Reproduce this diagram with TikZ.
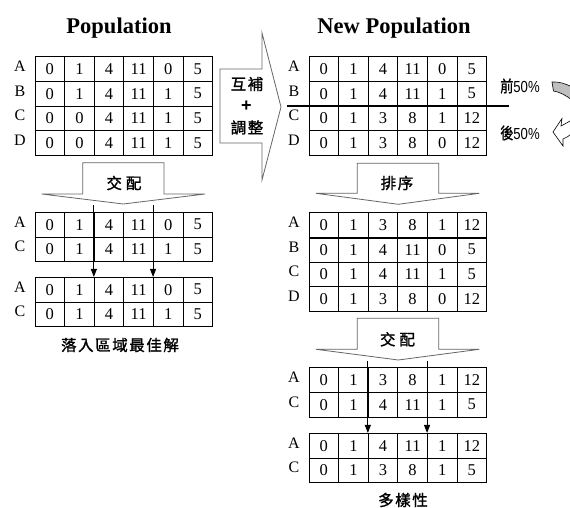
\documentclass[tikz,border=0pt]{standalone}
\usepackage{fontspec}
\setmainfont{Liberation Serif}
\newfontfamily\cjk{Noto Sans CJK TC}[LetterSpace=10,FakeBold=1.4]
\newfontfamily\sansn{Liberation Sans}
\usetikzlibrary{arrows.meta}
\newcommand\gatab[5]{%
  \foreach \rr [count=\i] in {#5} {
    \foreach \vv [count=\j] in \rr {
      \node[cell] (#1-\i-\j) at ({#2+(\j-0.5)*29.6},{#3+(\i-0.5)*24.6}) {\vv};
    }
  }
  \foreach \ll [count=\i] in {#4} {
    \node[rowlab] (#1-l\i) at ({#2-15},{#3+(\i-0.5)*24.6-2.5}) {\ll};
  }
}
\begin{document}
\begin{tikzpicture}[x=1pt,y=-1pt,
  cell/.style={draw, line width=0.7pt, minimum width=29.6pt, minimum height=24.6pt,
    inner sep=0pt, font=\fontsize{16.5}{16.5}\selectfont},
  rowlab/.style={font=\fontsize{16}{16}\selectfont, inner sep=0pt},
  title/.style={font=\fontsize{22.5}{24}\selectfont\bfseries, inner sep=0pt, anchor=base},
  cjklab/.style={font=\cjk\fontsize{15.5}{15.5}\selectfont, inner sep=0pt},
  chev/.style={draw=black!60, line width=0.8pt, fill=white},
  xarrow/.style={line width=1pt, -{Triangle[length=8pt,width=6pt]}},
  divider/.style={line width=1.7pt},
  pct/.style={inner sep=0pt, font=\fontsize{16}{16}\selectfont}]
\useasboundingbox (0,0) rectangle (570,508);
\fill[white] (0,0) rectangle (570,508);

% titles
\node[title] (t1) at (119,33.5) {Population};
\node[title] (t2) at (394,33.5) {New Population};

% tables
\gatab{P}{35}{56.7}{A,B,C,D}{{0,1,4,11,0,5},{0,1,4,11,1,5},{0,0,4,11,1,5},{0,0,4,11,1,5}}
\gatab{NP}{309}{56.7}{A,B,C,D}{{0,1,4,11,0,5},{0,1,4,11,1,5},{0,1,3,8,1,12},{0,1,3,8,0,12}}
\gatab{L1}{35}{212.3}{A,C}{{0,1,4,11,0,5},{0,1,4,11,1,5}}
\gatab{L2}{35}{277.3}{A,C}{{0,1,4,11,0,5},{0,1,4,11,1,5}}
\gatab{S}{309}{212.7}{A,B,C,D}{{0,1,3,8,1,12},{0,1,4,11,0,5},{0,1,4,11,1,5},{0,1,3,8,0,12}}
\gatab{R1}{309}{367.7}{A,C}{{0,1,3,8,1,12},{0,1,4,11,1,5}}
\gatab{R2}{309}{433.3}{A,C}{{0,1,4,11,1,12},{0,1,3,8,1,5}}

% dividers
\draw[divider] ([xshift=-22pt]NP-2-1.south west) -- ([xshift=22pt]NP-2-6.south east);
\draw[divider] (S-1-1.south west) -- (S-1-6.south east);

% big arrow
\draw[chev] (220,69) -- (262,69) -- (262,33) -- (281,107) -- (262,180) -- (262,143) -- (220,143) -- cycle;
\node[cjklab] (hb) at (247,84) {互補};
\node[inner sep=0pt, font=\sansn\bfseries\fontsize{18}{18}\selectfont] (plus) at (246.5,106.5) {+};
\node[cjklab] (tz) at (247,127.5) {調整};

% chevron left: crossover
\draw[chev] (82.7,162.7) -- (164,162.7) -- (164,194) -- (205,194) -- (123.3,204) -- (41.7,194) -- (82.7,194) -- cycle;
\node[cjklab] (jp1) at (124,183) {交\hspace{4pt}配};
% chevron right: sort
\draw[chev] (357.3,163.3) -- (438.7,163.3) -- (438.7,193.3) -- (479.3,193.3) -- (398.3,204.3) -- (316,193.3) -- (357.3,193.3) -- cycle;
\node[cjklab] (px) at (397,183) {排序};
% chevron right: crossover
\draw[chev] (357.3,318.3) -- (438.7,318.3) -- (438.7,349.3) -- (479.3,349.3) -- (398.3,360) -- (316,349.3) -- (357.3,349.3) -- cycle;
\node[cjklab] (jp2) at (397.5,339.3) {交\hspace{4pt}配};

% crossover arrows
\coordinate (lcb) at (123,205);
\coordinate (rcb) at (398,361);
\draw[xarrow] (L2-1-3.north west |- lcb) -- (L2-1-3.north west);
\draw[xarrow] (L2-1-5.north west |- lcb) -- (L2-1-5.north west);
\draw[xarrow] (R2-1-3.north west |- rcb) -- (R2-1-3.north west);
\draw[xarrow] (R2-1-5.north west |- rcb) -- (R2-1-5.north west);

% captions
\node[cjklab] (cap1) at (120,345) {落入區域最佳解};
\node[cjklab] (cap2) at (403,500) {多樣性};

% 50% labels
\node[pct] (f50) at (520,86) {\scalebox{0.82}[1]{\cjk 前\sansn 50\%}};
\node[pct] (b50) at (520,133) {\scalebox{0.82}[1]{\cjk 後\sansn 50\%}};

% curved arrow at right edge
\begin{scope}
\clip (0,0) rectangle (570,508);
\draw[fill=black!25, line width=0.6pt] (552,82) .. controls (559,81.5) and (565,83.5) .. (572,87) -- (572,100) .. controls (566,95.5) and (560,92) .. (553.5,91) -- cycle;
\draw[fill=white, line width=0.6pt] (553,132) -- (562,118.5) -- (561,126) .. controls (565,124) and (568,122) .. (572,120) -- (572,133) .. controls (569,136) and (566,138) .. (563,139) -- (563,146) -- cycle;
\end{scope}
\end{tikzpicture}
\end{document}
